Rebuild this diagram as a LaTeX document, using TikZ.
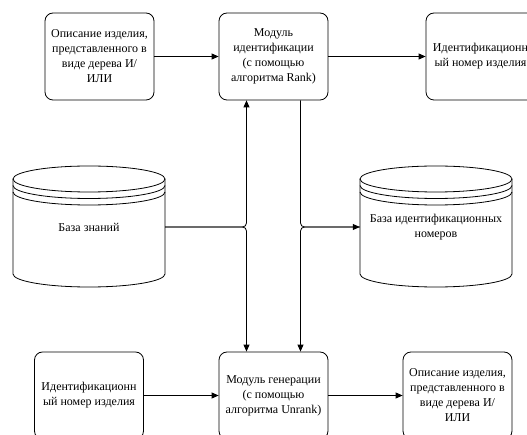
\documentclass[tikz,border=0pt]{standalone}
\usepackage{fontspec}
\setmainfont{Liberation Serif}
\usetikzlibrary{arrows.meta,calc}
\tikzset{
  blk/.style={draw, rounded corners=8pt, minimum width=109pt, minimum height=87pt,
    align=center, inner sep=2pt, font=\fontsize{12}{15}\selectfont, line width=0.8pt},
  arr/.style={-{Triangle[length=7pt,width=6pt]}, line width=0.8pt, rounded corners=4pt},
  cylbox/.style={minimum width=152pt, minimum height=120pt, inner sep=0pt,
    align=center, font=\fontsize{12}{15}\selectfont},
  cyl/.style={line width=0.8pt},
  ea/.style={start angle=180, end angle=360, x radius=76pt, y radius=13pt}
}
\begin{document}
\begin{tikzpicture}[x=1pt,y=-1pt]
\useasboundingbox (0,0) rectangle (527,435);
\clip (0,0) rectangle (527,435);
% top row
\node[blk] (desc1) at (99.5,56.5) {Описание изделия,\\представленного в\\виде дерева И/\\ИЛИ};
\node[blk] (idm) at (273.5,56.5) {Модуль\\идентификации\\(с помощью\\алгоритма Rank)};
\node[blk] (num1) at (480.5,56.5) {Идентификационн\\ый номер изделия};
% bottom row
\node[blk] (num2) at (89,395.5) {Идентификационн\\ый номер изделия};
\node[blk] (gen) at (273.5,395.5) {Модуль генерации\\(с помощью\\алгоритма Unrank)};
\node[blk] (desc2) at (457.5,395.5) {Описание изделия,\\представленного в\\виде дерева И/\\ИЛИ};
% cylinders
\node[cylbox] (kb) at (89,227) {База знаний};
\node[cylbox] (idb) at (436,227) {База идентификационных\\номеров};
\foreach \L/\C in {13/89, 360/436}{
  \pgfmathsetmacro{\R}{\L+152}
  \draw[cyl] (\C,179) ellipse [x radius=76pt, y radius=13pt];
  \draw[cyl] (\L,179) -- (\L,274) arc[ea] -- (\R,179);
  \draw[cyl] (\L,185.5) arc[ea];
  \draw[cyl] (\L,192) arc[ea];
}
% connectors
\draw[arr] (desc1) -- (idm);
\draw[arr] (idm) -- (num1);
\draw[arr] (num2) -- (gen);
\draw[arr] (gen) -- (desc2);
\draw[arr] (kb.east) -| ([xshift=-27pt]idm.south);
\draw[arr] (kb.east) -| ([xshift=-27pt]gen.north);
\draw[arr] ([xshift=27pt]idm.south) |- (idb.west);
\draw[arr] (idb.west) -| ([xshift=27pt]gen.north);
\end{tikzpicture}
\end{document}
